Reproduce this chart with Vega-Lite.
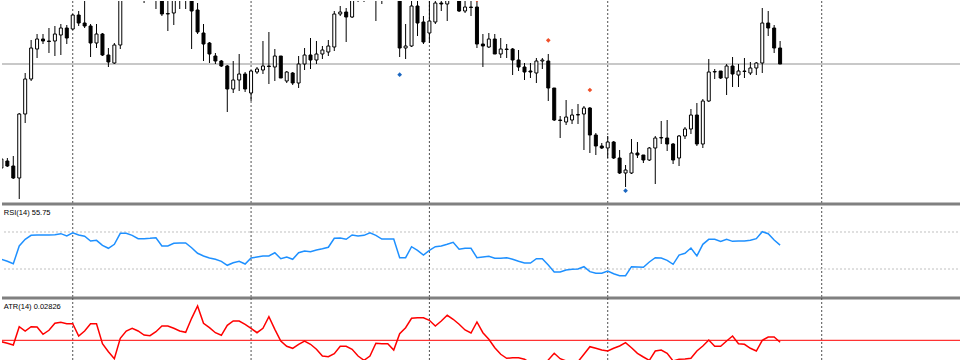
{
"$schema": "https://vega.github.io/schema/vega-lite/v6.json",
"padding": 0,
"spacing": 0,
"bounds": "flush",
"background": "white",
"config": {"view": {"stroke": null}, "scale": {"continuousPadding": 0}},
"datasets": {
"candles": [
{"i":0,"open":1.033,"high":1.044,"low":1.031,"close":1.042,"rsi":40.5,"atr":0.02836},
{"i":1,"open":1.040,"high":1.043,"low":1.034,"close":1.035,"rsi":38.3,"atr":0.02804},
{"i":2,"open":1.035,"high":1.045,"low":1.022,"close":1.023,"rsi":35.7,"atr":0.0277},
{"i":3,"open":1.023,"high":1.088,"low":1.002,"close":1.087,"rsi":54.9,"atr":0.03136},
{"i":4,"open":1.087,"high":1.128,"low":1.078,"close":1.122,"rsi":62.1,"atr":0.0305},
{"i":5,"open":1.122,"high":1.161,"low":1.120,"close":1.153,"rsi":66.4,"atr":0.03136},
{"i":6,"open":1.152,"high":1.167,"low":1.143,"close":1.162,"rsi":66.8,"atr":0.0313},
{"i":7,"open":1.162,"high":1.167,"low":1.157,"close":1.160,"rsi":66.8,"atr":0.02984},
{"i":8,"open":1.160,"high":1.173,"low":1.148,"close":1.1595,"rsi":66.8,"atr":0.03064},
{"i":9,"open":1.160,"high":1.175,"low":1.145,"close":1.167,"rsi":67.1,"atr":0.03204},
{"i":10,"open":1.166,"high":1.177,"low":1.146,"close":1.173,"rsi":68.2,"atr":0.03224},
{"i":11,"open":1.173,"high":1.176,"low":1.157,"close":1.163,"rsi":65.7,"atr":0.03196},
{"i":12,"open":1.172,"high":1.187,"low":1.171,"close":1.186,"rsi":69.2,"atr":0.03196},
{"i":13,"open":1.186,"high":1.190,"low":1.175,"close":1.178,"rsi":66.8,"atr":0.0295},
{"i":14,"open":1.178,"high":1.205,"low":1.173,"close":1.175,"rsi":65.4,"atr":0.0305},
{"i":15,"open":1.175,"high":1.177,"low":1.144,"close":1.158,"rsi":60.3,"atr":0.03196},
{"i":16,"open":1.158,"high":1.177,"low":1.153,"close":1.167,"rsi":61.0,"atr":0.03196},
{"i":17,"open":1.167,"high":1.168,"low":1.145,"close":1.146,"rsi":55.6,"atr":0.02796},
{"i":18,"open":1.146,"high":1.153,"low":1.134,"close":1.139,"rsi":52.4,"atr":0.02636},
{"i":19,"open":1.138,"high":1.158,"low":1.137,"close":1.156,"rsi":56.7,"atr":0.02496},
{"i":20,"open":1.156,"high":1.214,"low":1.152,"close":1.210,"rsi":68.6,"atr":0.02904},
{"i":21,"open":1.210,"high":1.220,"low":1.203,"close":1.215,"rsi":68.6,"atr":0.0305},
{"i":22,"open":1.215,"high":1.220,"low":1.204,"close":1.212,"rsi":66.4,"atr":0.03104},
{"i":23,"open":1.212,"high":1.216,"low":1.201,"close":1.205,"rsi":62.8,"atr":0.0305},
{"i":24,"open":1.205,"high":1.210,"low":1.198,"close":1.204,"rsi":62.8,"atr":0.0297},
{"i":25,"open":1.204,"high":1.209,"low":1.202,"close":1.205,"rsi":63.2,"atr":0.02956},
{"i":26,"open":1.205,"high":1.210,"low":1.192,"close":1.206,"rsi":63.8,"atr":0.03036},
{"i":27,"open":1.206,"high":1.209,"low":1.185,"close":1.187,"rsi":54.9,"atr":0.0315},
{"i":28,"open":1.187,"high":1.204,"low":1.170,"close":1.1875,"rsi":54.9,"atr":0.0315},
{"i":29,"open":1.188,"high":1.206,"low":1.176,"close":1.202,"rsi":57.8,"atr":0.03104},
{"i":30,"open":1.202,"high":1.207,"low":1.192,"close":1.203,"rsi":58.1,"atr":0.0305},
{"i":31,"open":1.203,"high":1.208,"low":1.192,"close":1.2035,"rsi":58.1,"atr":0.03024},
{"i":32,"open":1.203,"high":1.206,"low":1.152,"close":1.190,"rsi":53.0,"atr":0.03304},
{"i":33,"open":1.191,"high":1.198,"low":1.167,"close":1.169,"rsi":47.0,"atr":0.0355},
{"i":34,"open":1.168,"high":1.177,"low":1.140,"close":1.157,"rsi":44.1,"atr":0.03204},
{"i":35,"open":1.158,"high":1.159,"low":1.138,"close":1.147,"rsi":41.9,"atr":0.03116},
{"i":36,"open":1.145,"high":1.148,"low":1.137,"close":1.140,"rsi":40.5,"atr":0.03016},
{"i":37,"open":1.140,"high":1.141,"low":1.134,"close":1.135,"rsi":38.3,"atr":0.02964},
{"i":38,"open":1.135,"high":1.136,"low":1.089,"close":1.112,"rsi":34.0,"atr":0.03164},
{"i":39,"open":1.112,"high":1.140,"low":1.108,"close":1.121,"rsi":36.8,"atr":0.0325},
{"i":40,"open":1.121,"high":1.147,"low":1.110,"close":1.127,"rsi":38.3,"atr":0.0325},
{"i":41,"open":1.127,"high":1.129,"low":1.109,"close":1.112,"rsi":35.4,"atr":0.03184},
{"i":42,"open":1.108,"high":1.131,"low":1.100,"close":1.130,"rsi":41.9,"atr":0.03104},
{"i":43,"open":1.129,"high":1.134,"low":1.127,"close":1.132,"rsi":43.0,"atr":0.03016},
{"i":44,"open":1.131,"high":1.160,"low":1.127,"close":1.135,"rsi":44.1,"atr":0.03104},
{"i":45,"open":1.135,"high":1.169,"low":1.117,"close":1.1345,"rsi":44.1,"atr":0.03336},
{"i":46,"open":1.134,"high":1.152,"low":1.120,"close":1.145,"rsi":47.6,"atr":0.03084},
{"i":47,"open":1.145,"high":1.145,"low":1.123,"close":1.123,"rsi":41.1,"atr":0.0285},
{"i":48,"open":1.120,"high":1.130,"low":1.118,"close":1.129,"rsi":43.0,"atr":0.02744},
{"i":49,"open":1.128,"high":1.129,"low":1.116,"close":1.118,"rsi":40.5,"atr":0.02704},
{"i":50,"open":1.118,"high":1.145,"low":1.113,"close":1.137,"rsi":47.6,"atr":0.02784},
{"i":51,"open":1.137,"high":1.153,"low":1.131,"close":1.146,"rsi":49.5,"atr":0.0285},
{"i":52,"open":1.146,"high":1.163,"low":1.132,"close":1.141,"rsi":48.7,"atr":0.02784},
{"i":53,"open":1.141,"high":1.160,"low":1.137,"close":1.147,"rsi":50.5,"atr":0.02684},
{"i":54,"open":1.147,"high":1.155,"low":1.142,"close":1.151,"rsi":51.9,"atr":0.0255},
{"i":55,"open":1.149,"high":1.161,"low":1.145,"close":1.155,"rsi":53.5,"atr":0.02536},
{"i":56,"open":1.154,"high":1.190,"low":1.150,"close":1.187,"rsi":63.2,"atr":0.02596},
{"i":57,"open":1.187,"high":1.195,"low":1.185,"close":1.189,"rsi":63.5,"atr":0.02744},
{"i":58,"open":1.189,"high":1.193,"low":1.159,"close":1.184,"rsi":62.1,"atr":0.02744},
{"i":59,"open":1.184,"high":1.205,"low":1.183,"close":1.202,"rsi":66.8,"atr":0.02684},
{"i":60,"open":1.202,"high":1.212,"low":1.199,"close":1.208,"rsi":65.7,"atr":0.0255},
{"i":61,"open":1.208,"high":1.212,"low":1.199,"close":1.206,"rsi":66.4,"atr":0.02464},
{"i":62,"open":1.206,"high":1.218,"low":1.203,"close":1.214,"rsi":69.2,"atr":0.0255},
{"i":63,"open":1.214,"high":1.218,"low":1.180,"close":1.208,"rsi":66.4,"atr":0.02804},
{"i":64,"open":1.208,"high":1.210,"low":1.197,"close":1.206,"rsi":62.4,"atr":0.02796},
{"i":65,"open":1.206,"high":1.212,"low":1.202,"close":1.2065,"rsi":62.4,"atr":0.02796},
{"i":66,"open":1.206,"high":1.212,"low":1.202,"close":1.208,"rsi":62.4,"atr":0.0267},
{"i":67,"open":1.208,"high":1.210,"low":1.144,"close":1.153,"rsi":42.2,"atr":0.02996},
{"i":68,"open":1.153,"high":1.177,"low":1.142,"close":1.155,"rsi":42.2,"atr":0.03116},
{"i":69,"open":1.155,"high":1.200,"low":1.154,"close":1.195,"rsi":54.1,"atr":0.03304},
{"i":70,"open":1.195,"high":1.202,"low":1.165,"close":1.178,"rsi":50.2,"atr":0.03316},
{"i":71,"open":1.179,"high":1.185,"low":1.157,"close":1.159,"rsi":45.1,"atr":0.03316},
{"i":72,"open":1.168,"high":1.200,"low":1.158,"close":1.180,"rsi":50.2,"atr":0.03264},
{"i":73,"open":1.179,"high":1.203,"low":1.177,"close":1.198,"rsi":54.1,"atr":0.0315},
{"i":74,"open":1.198,"high":1.202,"low":1.190,"close":1.197,"rsi":54.9,"atr":0.0325},
{"i":75,"open":1.197,"high":1.205,"low":1.180,"close":1.201,"rsi":56.7,"atr":0.03364},
{"i":76,"open":1.203,"high":1.212,"low":1.202,"close":1.208,"rsi":58.9,"atr":0.03284},
{"i":77,"open":1.208,"high":1.210,"low":1.189,"close":1.190,"rsi":51.3,"atr":0.03184},
{"i":78,"open":1.190,"high":1.202,"low":1.188,"close":1.194,"rsi":52.4,"atr":0.0307},
{"i":79,"open":1.194,"high":1.203,"low":1.185,"close":1.1935,"rsi":52.4,"atr":0.0301},
{"i":80,"open":1.194,"high":1.202,"low":1.153,"close":1.157,"rsi":42.2,"atr":0.0323},
{"i":81,"open":1.157,"high":1.167,"low":1.134,"close":1.155,"rsi":43.0,"atr":0.03016},
{"i":82,"open":1.154,"high":1.168,"low":1.153,"close":1.162,"rsi":43.7,"atr":0.02884},
{"i":83,"open":1.162,"high":1.167,"low":1.147,"close":1.147,"rsi":41.6,"atr":0.02716},
{"i":84,"open":1.147,"high":1.163,"low":1.143,"close":1.152,"rsi":41.6,"atr":0.02584},
{"i":85,"open":1.152,"high":1.157,"low":1.143,"close":1.1515,"rsi":42.2,"atr":0.02504},
{"i":86,"open":1.152,"high":1.153,"low":1.126,"close":1.141,"rsi":40.5,"atr":0.02516},
{"i":87,"open":1.141,"high":1.151,"low":1.130,"close":1.134,"rsi":38.3,"atr":0.02516},
{"i":88,"open":1.134,"high":1.138,"low":1.121,"close":1.129,"rsi":36.5,"atr":0.02484},
{"i":89,"open":1.130,"high":1.138,"low":1.123,"close":1.129,"rsi":36.5,"atr":0.0241},
{"i":90,"open":1.128,"high":1.143,"low":1.118,"close":1.140,"rsi":41.1,"atr":0.0237},
{"i":91,"open":1.140,"high":1.143,"low":1.132,"close":1.141,"rsi":41.1,"atr":0.0239},
{"i":92,"open":1.140,"high":1.147,"low":1.100,"close":1.113,"rsi":34.3,"atr":0.0247},
{"i":93,"open":1.113,"high":1.113,"low":1.080,"close":1.081,"rsi":26.8,"atr":0.02604},
{"i":94,"open":1.081,"high":1.085,"low":1.063,"close":1.0805,"rsi":26.8,"atr":0.02496},
{"i":95,"open":1.079,"high":1.101,"low":1.076,"close":1.084,"rsi":28.9,"atr":0.0245},
{"i":96,"open":1.081,"high":1.092,"low":1.077,"close":1.086,"rsi":29.7,"atr":0.0241},
{"i":97,"open":1.086,"high":1.097,"low":1.077,"close":1.0865,"rsi":30.0,"atr":0.02436},
{"i":98,"open":1.087,"high":1.095,"low":1.051,"close":1.093,"rsi":32.5,"atr":0.02584},
{"i":99,"open":1.093,"high":1.094,"low":1.048,"close":1.066,"rsi":27.1,"atr":0.02736},
{"i":100,"open":1.066,"high":1.068,"low":1.046,"close":1.055,"rsi":25.4,"atr":0.02704},
{"i":101,"open":1.055,"high":1.058,"low":1.052,"close":1.053,"rsi":25.4,"atr":0.0267},
{"i":102,"open":1.053,"high":1.065,"low":1.043,"close":1.059,"rsi":27.8,"atr":0.0265},
{"i":103,"open":1.059,"high":1.060,"low":1.042,"close":1.043,"rsi":24.9,"atr":0.02704},
{"i":104,"open":1.043,"high":1.051,"low":1.027,"close":1.028,"rsi":22.8,"atr":0.0275},
{"i":105,"open":1.028,"high":1.036,"low":1.014,"close":1.031,"rsi":22.8,"atr":0.02816},
{"i":106,"open":1.028,"high":1.062,"low":1.027,"close":1.048,"rsi":32.5,"atr":0.02716},
{"i":107,"open":1.048,"high":1.059,"low":1.043,"close":1.046,"rsi":32.2,"atr":0.02604},
{"i":108,"open":1.046,"high":1.046,"low":1.038,"close":1.041,"rsi":31.8,"atr":0.0253},
{"i":109,"open":1.041,"high":1.054,"low":1.040,"close":1.053,"rsi":37.6,"atr":0.02464},
{"i":110,"open":1.053,"high":1.065,"low":1.017,"close":1.063,"rsi":42.2,"atr":0.0265},
{"i":111,"open":1.063,"high":1.080,"low":1.057,"close":1.0635,"rsi":41.9,"atr":0.0267},
{"i":112,"open":1.063,"high":1.081,"low":1.050,"close":1.057,"rsi":39.4,"atr":0.02604},
{"i":113,"open":1.057,"high":1.058,"low":1.037,"close":1.041,"rsi":35.1,"atr":0.0245},
{"i":114,"open":1.043,"high":1.066,"low":1.035,"close":1.065,"rsi":45.1,"atr":0.02484},
{"i":115,"open":1.065,"high":1.074,"low":1.062,"close":1.072,"rsi":47.0,"atr":0.0249},
{"i":116,"open":1.072,"high":1.092,"low":1.067,"close":1.086,"rsi":52.7,"atr":0.02504},
{"i":117,"open":1.086,"high":1.098,"low":1.055,"close":1.057,"rsi":44.1,"atr":0.0265},
{"i":118,"open":1.057,"high":1.102,"low":1.053,"close":1.100,"rsi":56.7,"atr":0.0275},
{"i":119,"open":1.100,"high":1.142,"low":1.099,"close":1.129,"rsi":62.1,"atr":0.0287},
{"i":120,"open":1.129,"high":1.132,"low":1.122,"close":1.1295,"rsi":62.1,"atr":0.02744},
{"i":121,"open":1.130,"high":1.130,"low":1.122,"close":1.123,"rsi":59.9,"atr":0.02744},
{"i":122,"open":1.123,"high":1.137,"low":1.106,"close":1.135,"rsi":62.1,"atr":0.0285},
{"i":123,"open":1.135,"high":1.144,"low":1.114,"close":1.127,"rsi":59.9,"atr":0.0295},
{"i":124,"open":1.126,"high":1.137,"low":1.114,"close":1.130,"rsi":60.3,"atr":0.02796},
{"i":125,"open":1.130,"high":1.143,"low":1.123,"close":1.1295,"rsi":60.3,"atr":0.02784},
{"i":126,"open":1.128,"high":1.139,"low":1.126,"close":1.133,"rsi":61.0,"atr":0.02704},
{"i":127,"open":1.133,"high":1.139,"low":1.126,"close":1.138,"rsi":62.8,"atr":0.0265},
{"i":128,"open":1.138,"high":1.193,"low":1.128,"close":1.178,"rsi":70.3,"atr":0.02864},
{"i":129,"open":1.178,"high":1.190,"low":1.165,"close":1.173,"rsi":68.2,"atr":0.0293},
{"i":130,"open":1.173,"high":1.176,"low":1.148,"close":1.153,"rsi":61.4,"atr":0.0293},
{"i":131,"open":1.153,"high":1.160,"low":1.137,"close":1.137,"rsi":55.75,"atr":0.02826}
],
"grid": [{"i":12},{"i":42},{"i":72},{"i":102},{"i":138}],
"fractals": [
{"i":67,"price":1.1263,"kind":"down"},
{"i":80,"price":1.201,"kind":"up"},
{"i":92,"price":1.1607,"kind":"up"},
{"i":99,"price":1.111,"kind":"up"},
{"i":105,"price":1.0103,"kind":"down"}
]
},
"vconcat": [
{
"width": 960, "height": 202,
"layer": [
{"data": {"name": "grid"}, "mark": {"type": "rule", "color": "#505050", "strokeWidth": 1, "strokeDash": [2, 2]},
 "encoding": {"x": {"field": "i", "type": "quantitative", "scale": {"domain": [0.1, 161.6], "nice": false, "zero": false, "padding": 0}, "axis": null}}},
{"data": {"name": "candles"}, "mark": {"type": "rule", "color": "#c8c8c8", "strokeWidth": 1},
 "encoding": {"y": {"datum": 1.1367, "type": "quantitative", "scale": {"domain": [0.998, 1.2], "nice": false, "zero": false}, "axis": null}}},
{"data": {"name": "candles"}, "mark": {"type": "rule", "color": "black", "strokeWidth": 1, "clip": true},
 "encoding": {
  "x": {"field": "i", "type": "quantitative", "scale": {"domain": [0.1, 161.6], "nice": false, "zero": false, "padding": 0}, "axis": null},
  "y": {"field": "low", "type": "quantitative", "scale": {"domain": [0.998, 1.2], "nice": false, "zero": false}, "axis": null},
  "y2": {"field": "high"}}},
{"data": {"name": "candles"}, "mark": {"type": "bar", "size": 3, "stroke": "black", "strokeWidth": 1, "clip": true},
 "encoding": {
  "x": {"field": "i", "type": "quantitative", "scale": {"padding": 0}, "axis": null},
  "y": {"field": "open", "type": "quantitative", "axis": null},
  "y2": {"field": "close"},
  "fill": {"condition": {"test": "datum.close >= datum.open", "value": "white"}, "value": "black"}}},
{"data": {"name": "fractals"}, "mark": {"type": "point", "shape": "diamond", "filled": true, "size": 22, "opacity": 1, "clip": true},
 "encoding": {
  "x": {"field": "i", "type": "quantitative", "axis": null},
  "y": {"field": "price", "type": "quantitative", "axis": null},
  "color": {"field": "kind", "type": "nominal", "scale": {"domain": ["up", "down"], "range": ["#f0502a", "#1a66c0"]}, "legend": null}}}
]
},
{
"width": 960, "height": 95,
"layer": [
{"data": {"name": "grid"}, "mark": {"type": "rule", "color": "#505050", "strokeWidth": 1, "strokeDash": [2, 2]},
 "encoding": {"x": {"field": "i", "type": "quantitative", "scale": {"domain": [0.1, 161.6], "nice": false, "zero": false, "padding": 0}, "axis": null}}},
{"data": {"values": [{"level": 30}, {"level": 70}]}, "mark": {"type": "rule", "color": "#c0c0c0", "strokeWidth": 1, "strokeDash": [2, 2]},
 "encoding": {"y": {"field": "level", "type": "quantitative", "scale": {"domain": [-1.35, 101.35], "nice": false, "zero": false}, "axis": null}}},
{"data": {"values": [{"edge": 100.4}, {"edge": -1.35}]}, "mark": {"type": "rule", "color": "#808080", "strokeWidth": 3},
 "encoding": {"y": {"field": "edge", "type": "quantitative", "axis": null}}},
{"data": {"name": "candles"}, "mark": {"type": "line", "color": "#1e90ff", "strokeWidth": 1.5, "clip": true},
 "encoding": {
  "x": {"field": "i", "type": "quantitative", "axis": null},
  "y": {"field": "rsi", "type": "quantitative", "axis": null}}},
{"data": {"values": [{"label": "RSI(14) 55.75"}]}, "mark": {"type": "text", "align": "left", "baseline": "middle", "font": "Liberation Sans", "fontSize": 7.5, "color": "#000000"},
 "encoding": {
  "x": {"datum": 0.4, "type": "quantitative"},
  "y": {"datum": 90, "type": "quantitative"},
  "text": {"field": "label"}}}
]
},
{
"width": 960, "height": 63,
"layer": [
{"data": {"name": "grid"}, "mark": {"type": "rule", "color": "#505050", "strokeWidth": 1, "strokeDash": [2, 2]},
 "encoding": {"x": {"field": "i", "type": "quantitative", "scale": {"domain": [0.1, 161.6], "nice": false, "zero": false, "padding": 0}, "axis": null}}},
{"data": {"values": [{"level": 0.02864}]}, "mark": {"type": "rule", "color": "#ff0000", "strokeWidth": 1},
 "encoding": {"y": {"field": "level", "type": "quantitative", "scale": {"domain": [0.0245, 0.0371], "nice": false, "zero": false}, "axis": null}}},
{"data": {"name": "candles"}, "mark": {"type": "line", "color": "#ff0000", "strokeWidth": 1.5, "clip": true},
 "encoding": {
  "x": {"field": "i", "type": "quantitative", "axis": null},
  "y": {"field": "atr", "type": "quantitative", "axis": null}}},
{"data": {"values": [{"label": "ATR(14) 0.02826"}]}, "mark": {"type": "text", "align": "left", "baseline": "middle", "font": "Liberation Sans", "fontSize": 7.5, "color": "#000000"},
 "encoding": {
  "x": {"datum": 0.4, "type": "quantitative"},
  "y": {"datum": 0.0354, "type": "quantitative"},
  "text": {"field": "label"}}}
]
}
]
}
